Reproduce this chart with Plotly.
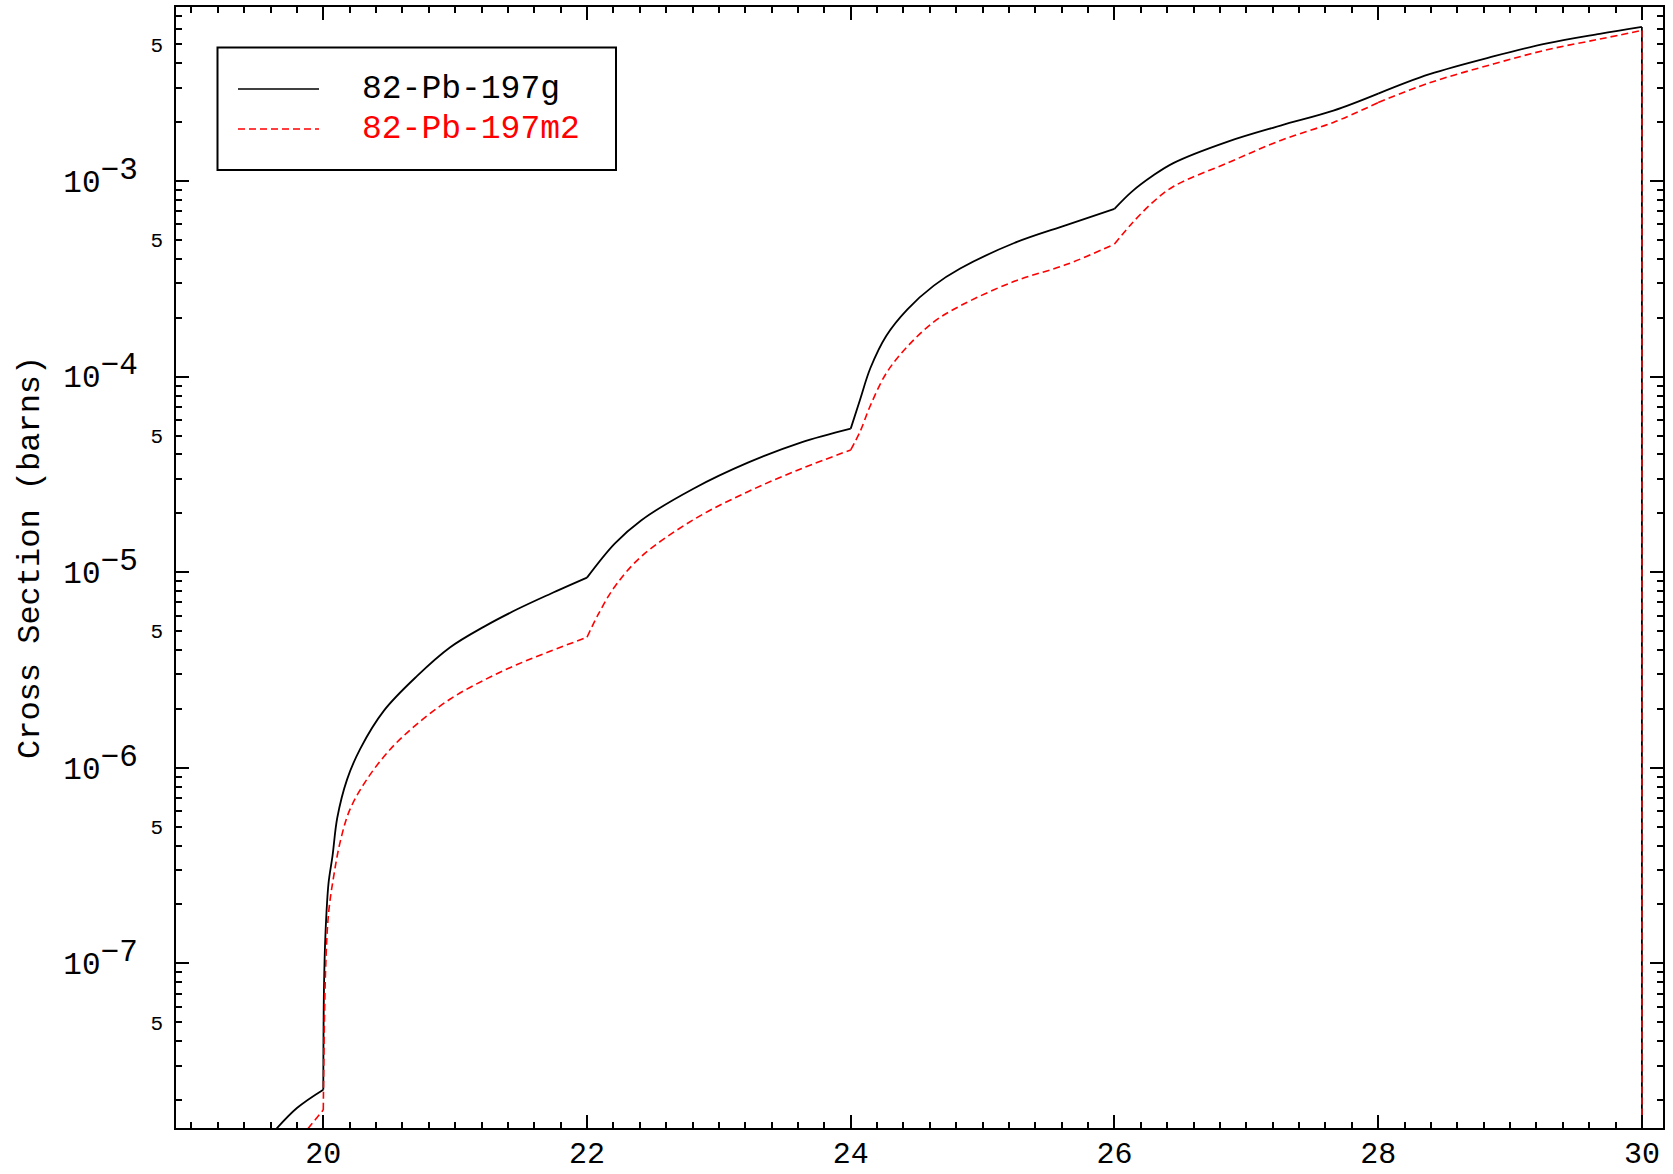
import plotly.graph_objects as go

# ---------------- data ----------------
series_names = ["82-Pb-197g", "82-Pb-197m2"]
series_colors = ["black", "red"]

energy_g = [19.60, 19.80, 20.00, 20.005, 20.017, 20.04, 20.07, 20.106, 20.18, 20.28,
            20.46, 20.71, 20.96, 21.22, 21.47, 21.72, 22.00, 22.21, 22.41, 22.81,
            23.22, 23.62, 24.00, 24.07, 24.15, 24.27, 24.43, 24.63, 24.83, 25.24,
            25.64, 26.00, 26.13, 26.29, 26.45, 26.86, 27.26, 27.66, 28.00, 28.39,
            28.88, 29.28, 29.68, 30.00, 30.00]
xs_g = [1.32e-8, 1.82e-8, 2.26e-8, 7.3e-8, 1.44e-7, 2.58e-7, 3.54e-7, 5.55e-7, 8.7e-7, 1.25e-6,
        1.96e-6, 2.94e-6, 4.12e-6, 5.27e-6, 6.46e-6, 7.74e-6, 9.38e-6, 1.40e-5, 1.84e-5, 2.68e-5,
        3.63e-5, 4.60e-5, 5.42e-5, 7.60e-5, 1.11e-4, 1.62e-4, 2.21e-4, 2.92e-4, 3.57e-4, 4.82e-4,
        5.97e-4, 7.21e-4, 8.81e-4, 1.064e-3, 1.239e-3, 1.592e-3, 1.923e-3, 2.291e-3, 2.80e-3, 3.52e-3,
        4.35e-3, 5.06e-3, 5.66e-3, 6.14e-3, 1e-10]

energy_m2 = [19.83, 20.00, 20.017, 20.04, 20.08, 20.13, 20.20, 20.33, 20.51, 20.71,
             20.96, 21.22, 21.47, 21.72, 22.00, 22.09, 22.21, 22.41, 22.81, 23.22,
             23.62, 24.00, 24.07, 24.15, 24.27, 24.43, 24.63, 24.83, 25.24, 25.64,
             26.00, 26.13, 26.29, 26.45, 26.86, 27.26, 27.66, 28.00, 28.39, 28.88,
             29.28, 29.68, 30.00, 30.00]
xs_m2 = [1.29e-8, 1.78e-8, 9.1e-8, 1.80e-7, 2.82e-7, 4.23e-7, 6.07e-7, 8.71e-7, 1.247e-6, 1.67e-6,
         2.24e-6, 2.81e-6, 3.37e-6, 3.94e-6, 4.65e-6, 6.17e-6, 8.43e-6, 1.20e-5, 1.86e-5, 2.58e-5,
         3.37e-5, 4.22e-5, 5.22e-5, 7.14e-5, 1.042e-4, 1.426e-4, 1.905e-4, 2.30e-4, 3.07e-4, 3.75e-4,
         4.76e-4, 6.05e-4, 7.78e-4, 9.40e-4, 1.239e-3, 1.614e-3, 1.995e-3, 2.52e-3, 3.18e-3, 3.98e-3,
         4.69e-3, 5.32e-3, 5.89e-3, 1e-10]

x_ticks = [20, 22, 24, 26, 28, 30]
y_major_exps = [-7, -6, -5, -4, -3]
y_half_vals = [5e-8, 5e-7, 5e-6, 5e-5, 5e-4, 5e-3]
y_title = "Cross Section (barns)"
kink_energies = [20.0, 22.0, 24.0, 26.0, 28.0, 30.0]

# ---------------- figure ----------------
W, H = 1673, 1174
ML, MR, MT, MB = 176, 10, 7, 46
FONT = "Liberation Mono"
yrange = [-7.842, -2.110]
xrange_ = [18.883, 30.16]


def split_pieces(E, V, bounds):
    """Split a series at the kink energies so each smooth piece is drawn on its own."""
    pieces, cur = [], [(E[0], V[0])]
    for e, v in zip(E[1:], V[1:]):
        cur.append((e, v))
        if e in bounds:
            pieces.append(cur)
            cur = [(e, v)]
    if len(cur) > 1:
        pieces.append(cur)
    return pieces


fig = go.Figure()
series = [(energy_g, xs_g, dict(color=series_colors[0], width=1.8)),
          (energy_m2, xs_m2, dict(color=series_colors[1], width=1.6, dash="7px,4px"))]
for (E, V, ln), name in zip(series, series_names):
    for i, pc in enumerate(split_pieces(E, V, kink_energies)):
        fig.add_trace(go.Scatter(x=[p[0] for p in pc], y=[p[1] for p in pc], mode="lines",
                                 name=name, legendgroup=name, showlegend=False,
                                 line=dict(shape="spline", smoothing=1.0, **ln)))

# dummy traces to drive the overlay axes (labels "5", right/top mirrored ticks)
fig.add_trace(go.Scatter(x=[None], y=[None], yaxis="y2", showlegend=False, hoverinfo="skip"))
fig.add_trace(go.Scatter(x=[None], y=[None], xaxis="x2", yaxis="y3", showlegend=False,
                         hoverinfo="skip"))

y_major_vals = [10.0 ** e for e in y_major_exps]
y_major_text = ["10<sup><span style='font-size:31px'>−%d</span></sup>" % (-e) for e in y_major_exps]
y_minor_vals = [k * 10.0 ** e for e in range(-8, -1) for k in range(2, 10)]

xtick_common = dict(range=xrange_, tickvals=x_ticks, ticks="inside", ticklen=13, tickwidth=2,
                    tickcolor="black", showgrid=False, zeroline=False, automargin=False,
                    minor=dict(dtick=0.2, tick0=20, ticks="inside", ticklen=6, tickwidth=1.5,
                               tickcolor="black", showgrid=False))
ytick_common = dict(type="log", range=yrange, tickvals=y_major_vals, ticks="inside", ticklen=13,
                    tickwidth=2, tickcolor="black", showgrid=False, zeroline=False,
                    automargin=False,
                    minor=dict(tickmode="array", tickvals=y_minor_vals, ticks="inside",
                               ticklen=6, tickwidth=1.5, tickcolor="black", showgrid=False))

fig.update_layout(
    width=W, height=H,
    margin=dict(l=ML, r=MR, t=MT, b=MB, autoexpand=False),
    paper_bgcolor="white", plot_bgcolor="white",
    font=dict(family=FONT, color="black", size=31),
    xaxis=dict(**xtick_common, showline=True, linewidth=2, linecolor="black", mirror=True,
               tickfont=dict(size=30, family=FONT), ticklabeloverflow="allow",
               ticklabelstandoff=-3),
    xaxis2=dict(**xtick_common, overlaying="x", side="top", anchor="y", showticklabels=False,
                showline=False),
    yaxis=dict(**ytick_common, ticktext=y_major_text, showline=True, linewidth=2,
               linecolor="black", mirror=True, tickfont=dict(size=31, family=FONT),
               ticklabelstandoff=30),
    yaxis2=dict(type="log", range=yrange, overlaying="y", side="left", anchor="x",
                tickvals=y_half_vals, ticktext=["5"] * len(y_half_vals), automargin=False,
                ticks="", showline=False, showgrid=False, zeroline=False,
                tickfont=dict(size=21, family=FONT), ticklabelstandoff=12),
    yaxis3=dict(**ytick_common, overlaying="y", side="right", anchor="x2",
                showticklabels=False, showline=False),
)

pw = W - ML - MR
ph = H - MT - MB


def px_x(p):
    return (p - ML) / pw


def px_y(p):
    return (H - MB - p) / ph


# y axis title
fig.add_annotation(text=y_title, xref="paper", yref="paper",
                   x=px_x(30), y=px_y(558), textangle=-90,
                   showarrow=False, xanchor="center", yanchor="middle",
                   font=dict(size=32, family=FONT, color="black"))

# legend box (drawn by hand to match the long line samples)
fig.add_shape(type="rect", xref="paper", yref="paper",
              x0=px_x(217.5), x1=px_x(616), y0=px_y(170), y1=px_y(47.5),
              line=dict(color="black", width=2), fillcolor="white", layer="above")
row_y = [89, 129]
dashes = ["solid", "7px,4px"]
for name, col, ry, d in zip(series_names, series_colors, row_y, dashes):
    fig.add_shape(type="line", xref="paper", yref="paper",
                  x0=px_x(238), x1=px_x(319), y0=px_y(ry), y1=px_y(ry),
                  line=dict(color=col, width=1.6, dash=d), layer="above")
    fig.add_annotation(text=name, xref="paper", yref="paper",
                       x=px_x(360), y=px_y(ry), xanchor="left", yanchor="middle",
                       showarrow=False, font=dict(size=33, family=FONT, color=col))

fig.write_html("out.html", config={"displayModeBar": False},
               post_script="document.body.style.margin='0px';document.body.style.overflow='hidden';")
